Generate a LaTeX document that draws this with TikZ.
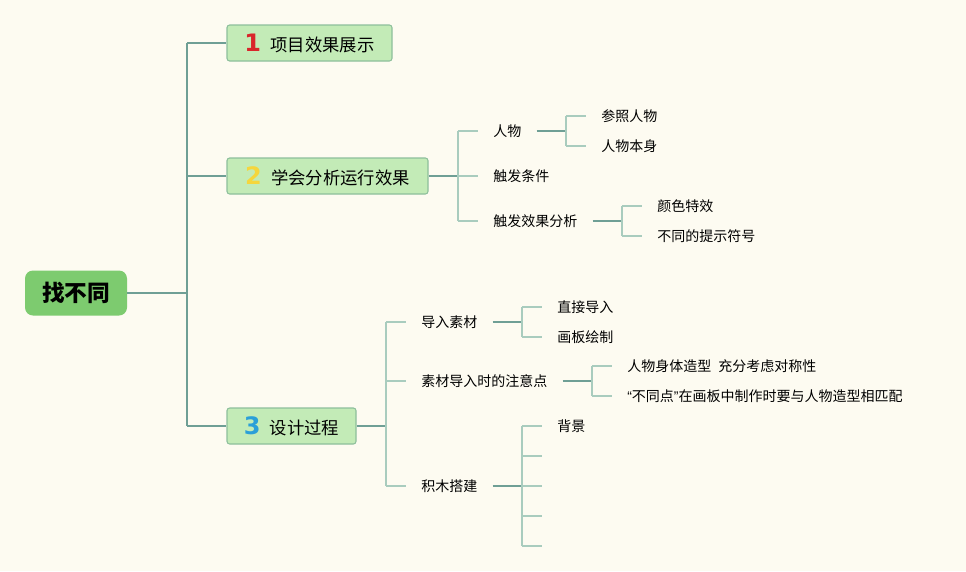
\documentclass[tikz,border=0pt]{standalone}
\usepackage{fontspec}
\setmainfont{Noto Sans CJK SC}
\newfontfamily\numfont{DejaVu Sans}
\newfontfamily\quotefont{Liberation Sans}
\usetikzlibrary{positioning}

\definecolor{bgcream}{HTML}{FDFBF1}
\definecolor{rootgreen}{HTML}{7DCB6F}
\definecolor{boxgreen}{HTML}{C3EBB7}
\definecolor{boxedge}{HTML}{8DBF9B}
\definecolor{linedark}{HTML}{6F9F95}
\definecolor{linelight}{HTML}{A9CCBE}
\definecolor{numred}{HTML}{D9262B}
\definecolor{numyellow}{HTML}{F5D63D}
\definecolor{numblue}{HTML}{2A9FD8}

\newcommand{\Num}[2]{{\numfont\bfseries\fontsize{18}{18}\selectfont\color{#1}#2}\hspace{7pt}}

\begin{document}
\begin{tikzpicture}[x=0.75pt,y=-0.75pt]
			\tikzstyle{Root}	= [rounded corners=6pt, fill=rootgreen, minimum width=76.5pt, minimum height=33.75pt, inner sep=0pt, font=\fontsize{17}{17}\selectfont\bfseries]
			\tikzstyle{Main}	= [rounded corners=2pt, draw=boxedge, fill=boxgreen, line width=0.8pt, minimum height=27pt, inner sep=0pt, font=\fontsize{13}{13}\selectfont]
			\tikzstyle{Leaf}	= [anchor=west, inner xsep=11.25pt, inner ysep=2pt, font=\fontsize{10.5}{12}\selectfont]
			\tikzstyle{Trunk}	= [line width=1.5pt, linedark]
			\tikzstyle{Twig}	= [line width=1.1pt, linelight]

			\fill [bgcream] (0,0) rectangle (966,571);
			\useasboundingbox (0,0) rectangle (966,571);

			% main topics
			\node (root) at (76,293) [Root] {找不同};
			\node (b1) at (309.5,43) [Main, minimum width=123.75pt] {\Num{numred}{1}项目效果展示};
			\node (b2) at (327.5,176) [Main, minimum width=150.75pt] {\Num{numyellow}{2}学会分析运行效果};
			\node (b3) at (291.5,426) [Main, minimum width=96.75pt] {\Num{numblue}{3}设计过程};

			\coordinate (s0) at (187,293);
			\draw [Trunk] (root.east) to (s0);
			\draw [Trunk] (s0 |- b1.west) to (s0 |- b3.west);
			\foreach \b in {b1,b2,b3}
				\draw [Trunk] (s0 |- \b.west) to (\b.west);

			% topic 2
			\foreach \n/\y/\t in {c1/131/人物, c2/176/触发条件, c3/221/触发效果分析}
				\node (\n) at (478,\y) [Leaf] {\t};
			\foreach \n/\y/\t in {c11/116/参照人物, c12/146/人物本身}
				\node (\n) at (586,\y) [Leaf] {\t};
			\foreach \n/\y/\t in {c31/206/颜色特效, c32/236/不同的提示符号}
				\node (\n) at (642,\y) [Leaf] {\t};

			% topic 3
			\foreach \n/\y/\t in {d1/322/导入素材, d2/381/素材导入时的注意点, d3/486/积木搭建}
				\node (\n) at (406,\y) [Leaf] {\t};
			\foreach \n/\y/\t in {d11/307/直接导入, d12/337/画板绘制}
				\node (\n) at (542,\y) [Leaf] {\t};
			\node (d21) at (612,366) [Leaf] {人物身体造型\hspace{0.5em}充分考虑对称性};
			\node (d22) at (612,396) [Leaf] {{\quotefont “}不同点{\quotefont ”}在画板中制作时要与人物造型相匹配};
			\foreach \n/\y/\t in {d31/426/背景, d32/456/{}, d33/486/{}, d34/516/{}, d35/546/{}}
				\node (\n) at (542,\y) [Leaf] {\t};

			% branches: parent / junction x / first child / last child / children
			\foreach \p/\x/\f/\l/\kids in {b2/458/c1/c3/{c1,c2,c3}, c1/566/c11/c12/{c11,c12}, c3/622/c31/c32/{c31,c32},
					b3/386/d1/d3/{d1,d2,d3}, d1/522/d11/d12/{d11,d12}, d2/592/d21/d22/{d21,d22}, d3/522/d31/d35/{d31,d32,d33,d34,d35}} {
				\coordinate (j\p) at (\x,0);
				\draw [Trunk] (\p.east) to (\p.east -| j\p);
				\draw [Twig] (j\p |- \f.west) to (j\p |- \l.west);
				\foreach \k in \kids
					\draw [Twig] (j\p |- \k.west) to (\k.west);
			}
		\end{tikzpicture}
\end{document}
